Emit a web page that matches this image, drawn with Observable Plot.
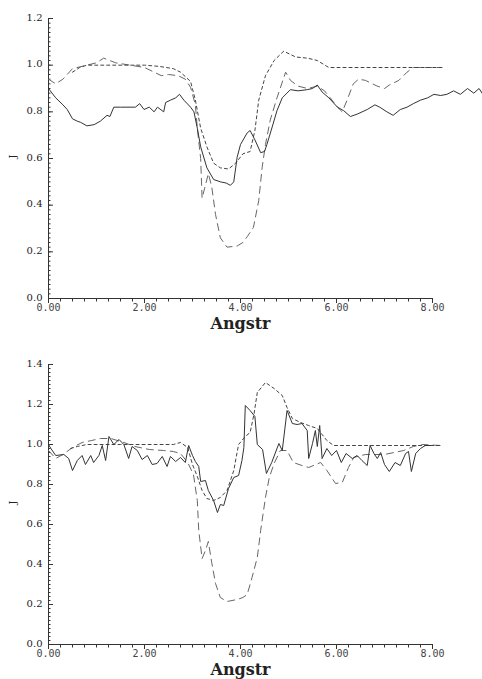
<!DOCTYPE html>
<html>
<head>
<meta charset="utf-8">
<script src="https://cdn.jsdelivr.net/npm/d3@7"></script>
<script src="https://cdn.jsdelivr.net/npm/@observablehq/plot@0.6"></script>
<style>
  html, body { margin: 0; padding: 0; background: #fff; }
  svg { display: block; }
</style>
</head>
<body>
<div id="chart"></div>
<script>
// ---------- tick values ----------
const xMajorTicks = [0, 2, 4, 6, 8];
const xMinorTicks = d3.range(0, 8.001, 0.25);
const yMajorTicksTop = [0, 0.2, 0.4, 0.6, 0.8, 1.0, 1.2];
const yMajorTicksBottom = [0, 0.2, 0.4, 0.6, 0.8, 1.0, 1.2, 1.4];
const xTitle = "Angstr";
const yTitle = "J";

// ---------- top panel ----------
const topSolidX = [0,0.15,0.3,0.39,0.5,0.6,0.67,0.8,0.95,1.08,1.22,1.28,1.36,1.5,1.81,1.9,1.99,2.1,2.2,2.27,2.4,2.44,2.54,2.65,2.73,2.82,2.96,3.03,3.1,3.17,3.3,3.44,3.58,3.7,3.79,3.86,3.93,4.0,4.14,4.2,4.3,4.42,4.5,4.55,4.66,4.76,4.87,5.04,5.2,5.39,5.5,5.6,5.7,5.84,6.02,6.15,6.29,6.43,6.64,6.8,6.9,7.05,7.18,7.33,7.47,7.6,7.75,7.9,8.03,8.17,8.3,8.44,8.58,8.73,8.86,8.97,9.05];
const topSolidY = [0.90,0.86,0.83,0.81,0.77,0.76,0.755,0.74,0.745,0.76,0.785,0.78,0.82,0.82,0.82,0.835,0.81,0.82,0.80,0.82,0.80,0.84,0.85,0.86,0.875,0.85,0.82,0.80,0.73,0.65,0.56,0.51,0.50,0.495,0.485,0.50,0.605,0.66,0.71,0.72,0.68,0.625,0.63,0.66,0.735,0.805,0.86,0.895,0.89,0.895,0.90,0.915,0.885,0.86,0.82,0.805,0.78,0.79,0.81,0.83,0.82,0.80,0.785,0.81,0.82,0.835,0.85,0.86,0.875,0.87,0.875,0.89,0.875,0.90,0.88,0.90,0.875];

const topDashX = [0,0.15,0.3,0.5,0.8,1.0,1.15,1.4,1.7,2.0,2.2,2.35,2.5,2.7,2.85,2.96,3.06,3.1,3.17,3.2,3.25,3.33,3.4,3.48,3.58,3.72,3.93,4.05,4.14,4.27,4.38,4.45,4.52,4.62,4.76,4.94,5.04,5.2,5.4,5.6,5.75,5.87,6.02,6.12,6.22,6.35,6.46,6.6,6.85,7.0,7.1,7.3,7.47,7.6,8.17];
const topDashY = [0.94,0.92,0.94,0.985,1.0,1.01,1.03,1.01,1.0,0.99,0.97,0.955,0.96,0.955,0.94,0.905,0.83,0.73,0.60,0.43,0.47,0.535,0.48,0.36,0.26,0.22,0.225,0.24,0.265,0.305,0.42,0.56,0.66,0.765,0.86,0.97,0.935,0.91,0.90,0.91,0.89,0.86,0.82,0.80,0.85,0.92,0.94,0.935,0.91,0.90,0.915,0.935,0.97,0.99,0.99];

const topDotX = [0.5,0.65,0.8,2.0,2.3,2.6,2.75,2.96,3.06,3.17,3.3,3.44,3.58,3.75,3.9,4.05,4.2,4.3,4.38,4.52,4.7,4.9,5.15,5.4,5.6,5.84,6.2,8.2];
const topDotY = [0.97,0.99,1.0,1.0,0.995,0.985,0.97,0.93,0.85,0.73,0.65,0.58,0.56,0.555,0.58,0.62,0.63,0.72,0.85,0.955,1.02,1.06,1.035,1.03,1.02,0.99,0.99,0.99];

// ---------- bottom panel ----------
const botSolidX = [0,0.05,0.15,0.32,0.42,0.5,0.6,0.7,0.77,0.88,0.94,1.05,1.12,1.19,1.26,1.36,1.47,1.57,1.67,1.74,1.85,1.95,2.06,2.16,2.26,2.37,2.47,2.54,2.65,2.75,2.85,2.92,3.0,3.06,3.13,3.17,3.27,3.33,3.44,3.52,3.58,3.65,3.75,3.86,3.96,4.03,4.07,4.1,4.2,4.3,4.35,4.46,4.54,4.65,4.8,4.87,4.97,5.08,5.18,5.28,5.39,5.42,5.5,5.56,5.6,5.65,5.7,5.8,5.9,6.0,6.1,6.2,6.33,6.43,6.53,6.64,6.7,6.78,6.85,6.92,7.0,7.1,7.22,7.33,7.44,7.5,7.56,7.65,7.75,7.85,7.96];
const botSolidY = [1.0,0.98,0.945,0.95,0.93,0.87,0.92,0.945,0.90,0.945,0.91,0.945,0.995,0.92,1.04,1.0,1.025,1.0,0.93,0.99,0.97,0.925,0.945,0.90,0.905,0.94,0.89,0.94,0.915,0.935,0.91,0.995,0.945,0.915,0.89,0.815,0.82,0.77,0.72,0.66,0.70,0.695,0.78,0.835,0.845,0.92,0.985,1.195,1.17,1.14,1.0,0.975,0.855,0.91,1.005,0.97,1.17,1.105,1.10,1.105,1.07,0.93,1.005,1.07,0.99,1.095,0.93,0.98,0.945,0.97,0.91,0.955,0.93,0.945,0.92,0.895,0.995,0.955,0.93,0.96,0.90,0.865,0.91,0.895,0.955,0.965,0.865,0.955,0.98,0.995,0.995];

const botDashX = [0,0.15,0.3,0.5,0.7,0.9,1.08,1.3,1.57,1.8,2.1,2.4,2.6,2.75,2.9,3.02,3.1,3.13,3.2,3.27,3.33,3.4,3.48,3.58,3.72,3.93,4.05,4.14,4.24,4.35,4.42,4.52,4.6,4.7,4.83,4.97,5.1,5.28,5.42,5.67,5.8,5.98,6.12,6.25,6.36,6.6,7.0,7.4,7.6,7.8,8.17];
const botDashY = [0.97,0.93,0.95,0.985,1.01,1.02,1.03,1.03,1.01,0.99,0.975,0.97,0.965,0.955,0.91,0.85,0.72,0.57,0.43,0.47,0.515,0.41,0.305,0.235,0.215,0.225,0.235,0.25,0.335,0.435,0.57,0.735,0.835,0.905,0.97,0.97,0.91,0.895,0.885,0.91,0.87,0.805,0.81,0.885,0.935,0.95,0.95,0.97,0.99,1.0,0.995];

const botDotX = [0.46,0.6,0.8,1.5,2.6,2.75,2.9,3.0,3.1,3.2,3.3,3.44,3.58,3.72,3.86,3.96,4.1,4.2,4.28,4.35,4.52,4.7,4.87,4.97,5.08,5.25,5.42,5.6,5.8,5.94,8.17];
const botDotY = [0.98,0.99,1.0,1.0,1.0,1.01,0.985,0.90,0.84,0.77,0.73,0.72,0.735,0.77,0.87,1.0,1.04,1.06,1.15,1.26,1.31,1.28,1.245,1.185,1.13,1.11,1.095,1.08,1.02,0.995,0.995];

const toPts = (xs, ys) => xs.map((x, i) => ({x, y: ys[i]}));

function panel({yMax, yTicks, height, marginTop, marginBottom, solid, dash, dot}) {
  const yMinor = d3.range(0, yMax + 0.0001, 0.02);
  const axisColor = "#333";
  return Plot.plot({
    width: 482,
    height,
    marginLeft: 48,
    marginRight: 50,
    marginTop,
    marginBottom,
    style: {background: "white"},
    x: {domain: [0, 8], axis: null},
    y: {domain: [0, yMax], axis: null},
    marks: [
      // axes lines
      Plot.ruleX([0], {stroke: axisColor, strokeWidth: 1}),
      Plot.ruleY([0], {stroke: axisColor, strokeWidth: 1}),
      // y ticks (inside, pointing right)
      Plot.ruleY(yMinor, {y: d => d, x1: 0, x2: 0, insetRight: -2.5, stroke: axisColor}),
      Plot.ruleY(yTicks, {y: d => d, x1: 0, x2: 0, insetRight: -5, stroke: axisColor}),
      // x ticks (pointing down)
      Plot.ruleX(xMinorTicks, {x: d => d, y1: 0, y2: 0, insetBottom: -3.5, stroke: axisColor}),
      Plot.ruleX(xMajorTicks, {x: d => d, y1: 0, y2: 0, insetBottom: -5, stroke: axisColor}),
      // tick labels
      Plot.text(yTicks, {x: 0, y: d => d, text: d => d.toFixed(1), textAnchor: "end", dx: -6, dy: -1,
        fontFamily: "DejaVu Serif", fontSize: 10, fill: "#222"}),
      Plot.text(xMajorTicks, {x: d => d, y: 0, text: d => d.toFixed(2), dy: 9,
        fontFamily: "DejaVu Sans Mono", fontSize: 10, fill: "#444"}),
      // axis titles
      Plot.text([xTitle], {x: 4, y: 0, text: d => d, dy: 25, fontFamily: "DejaVu Serif",
        fontWeight: "bold", fontSize: 16, fill: "#222"}),
      Plot.text([yTitle], {frameAnchor: "left", text: d => d, dx: -36, rotate: -90,
        fontFamily: "DejaVu Serif", fontSize: 10, fill: "#222"}),
      // series
      Plot.line(dash, {x: "x", y: "y", stroke: "#666", strokeWidth: 1, strokeDasharray: "7,5"}),
      Plot.line(dot, {x: "x", y: "y", stroke: "#444", strokeWidth: 1, strokeDasharray: "3,3"}),
      Plot.line(solid, {x: "x", y: "y", stroke: "#333", strokeWidth: 1})
    ]
  });
}

const chart = document.getElementById("chart");
chart.append(panel({
  yMax: 1.2, yTicks: yMajorTicksTop, height: 340, marginTop: 18, marginBottom: 42,
  solid: toPts(topSolidX, topSolidY), dash: toPts(topDashX, topDashY), dot: toPts(topDotX, topDotY)
}));
chart.append(panel({
  yMax: 1.4, yTicks: yMajorTicksBottom, height: 339, marginTop: 24, marginBottom: 35,
  solid: toPts(botSolidX, botSolidY), dash: toPts(botDashX, botDashY), dot: toPts(botDotX, botDotY)
}));
</script>
</body>
</html>
